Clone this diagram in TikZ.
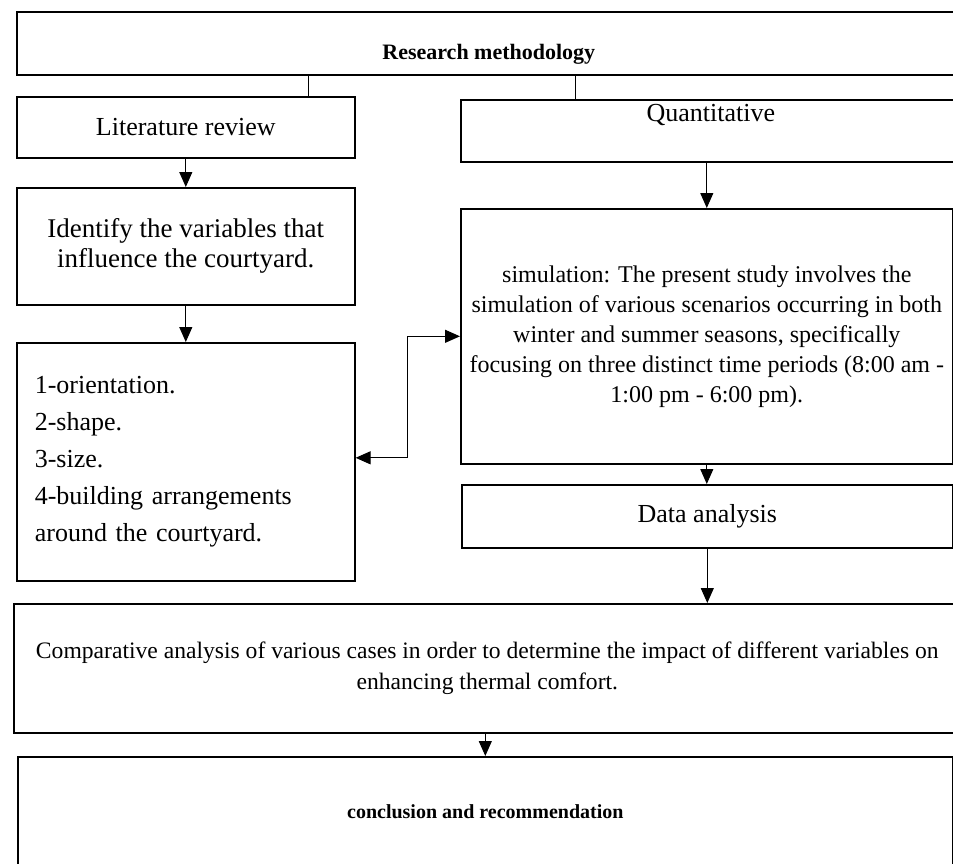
\documentclass[tikz,border=0pt]{standalone}
\usepackage{fontspec}
\setmainfont{Liberation Serif}
\usetikzlibrary{arrows.meta, positioning, calc}

\begin{document}
\begin{tikzpicture}[x=0.5pt, y=-0.5pt,
   box/.style={draw, line width=0.8pt, inner sep=3pt, align=center,
      font=\fontsize{13}{15}\selectfont},
   smallbox/.style={box, font=\fontsize{12}{15}\selectfont},
   link/.style={line width=0.5pt},
   flow/.style={line width=0.5pt, -{Triangle[length=7.5pt, width=6.5pt]}},
   both/.style={line width=0.6pt, {Triangle[length=7.5pt, width=6.5pt]}-{Triangle[length=7.5pt, width=6.5pt]}}]
   \useasboundingbox (0,0) rectangle (953,863);
   % Header
   \node[box, anchor=north west, minimum width=472pt, minimum height=31.5pt,
      inner ysep=0pt, text height=24pt, text depth=7.5pt,
      font=\fontsize{11}{13}\bfseries\selectfont] (method) at (16,11) {Research methodology};
   % Left column
   \node[box, anchor=north west, minimum width=169pt, minimum height=30.5pt] (lit) at (16,96) {Literature review};
   \node[box, anchor=north west, minimum width=169pt, minimum height=58.5pt,
      font=\fontsize{13.5}{15}\selectfont] (ident) at (16,187) {Identify the variables that\\influence the courtyard.};
   \node[box, anchor=north west, minimum width=169pt, minimum height=119pt,
      inner xsep=9pt, text width=151pt, align=left, font=\fontsize{13}{18.5}\selectfont] (list) at (16,342)
      {1-orientation.\\2-shape.\\3-size.\\4-building arrangements\\around the courtyard.};
   % Right column
   \node[box, anchor=north west, minimum width=250pt, minimum height=31pt,
      inner ysep=0pt, text height=11pt, text depth=20pt] (quant) at (460,99) {Quantitative};
   \node[smallbox, anchor=north west, minimum width=246pt, minimum height=127.5pt] (sim) at (460,208)
      {simulation: The present study involves the\\simulation of various scenarios occurring in both\\winter and summer seasons, specifically\\focusing on three distinct time periods (8:00 am -\\1:00 pm - 6:00 pm).};
   \node[box, anchor=north west, minimum width=245.5pt, minimum height=31.5pt] (da) at (461,484) {Data analysis};
   % Bottom rows
   \node[smallbox, anchor=north west, minimum width=473.5pt, minimum height=64.5pt,
      font=\fontsize{11.8}{15.5}\selectfont] (comp) at (13,603)
      {Comparative analysis of various cases in order to determine the impact of different variables on\\enhancing thermal comfort.};
   \node[box, anchor=north west, minimum width=467.5pt, minimum height=55pt,
      font=\fontsize{10}{13}\bfseries\selectfont] (concl) at (17,756) {conclusion and recommendation};
   % Header links
   \coordinate (litTop) at ([xshift=61.5pt]lit.north);
   \coordinate (quantTop) at ([xshift=-67.5pt]quant.north);
   \draw[link] (litTop) -- (litTop |- method.south);
   \draw[link] (quantTop) -- (quantTop |- method.south);
   % Flow arrows
   \draw[flow] (lit.south) -- (ident.north);
   \draw[flow] (ident.south) -- (list.north);
   \draw[flow] (quant.south -| sim.north) -- (sim.north);
   \draw[flow] (sim.south) -- (sim.south |- da.north);
   \draw[flow] (da.south) -- (da.south |- comp.north);
   \draw[flow] (concl.north |- comp.south) -- (concl.north);
   % Two-way link between variables and simulation
   \draw[both] ([yshift=2pt]list.east) -- ++(26pt,0) |- (sim.west);
\end{tikzpicture}
\end{document}
